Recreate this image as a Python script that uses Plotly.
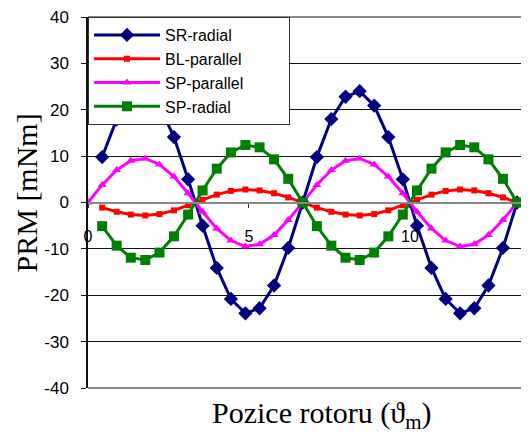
import plotly.graph_objects as go

# rotor position samples
theta = [0, 0.44, 0.89, 1.33, 1.78, 2.22, 2.67, 3.11, 3.56, 4.0, 4.44,
         4.89, 5.33, 5.78, 6.22, 6.67, 7.11, 7.56, 8.0, 8.44, 8.89,
         9.33, 9.78, 10.22, 10.67, 11.11, 11.56, 12.0, 12.44, 12.89, 13.33]

sr_radial = [None, 9.8, 17.9, 22.8, 23.9, 20.9, 14.1, 5.0, -5.0, -14.1, -20.8,
             -23.9, -22.8, -17.9, -9.8, 0.0, 9.8, 18.0, 22.8, 24.0, 20.9,
             14.1, 5.0, -5.0, -14.1, -20.8, -23.9, -22.8, -17.9, -9.8, 0.0]
bl_parallel = [None, -1.1, -2.0, -2.6, -2.8, -2.5, -1.7, -0.6, 0.6, 1.7, 2.5,
               2.8, 2.6, 2.0, 1.1, 0.0, -1.1, -2.0, -2.6, -2.8, -2.5,
               -1.7, -0.6, 0.6, 1.7, 2.5, 2.8, 2.6, 2.0, 1.1, 0.0]
sp_parallel = [0.0, 3.8, 7.0, 9.0, 9.5, 8.2, 5.6, 2.0, -2.0, -5.6, -8.2,
               -9.5, -9.0, -7.0, -3.8, 0.0, 3.8, 7.0, 9.0, 9.5, 8.2,
               5.6, 2.0, -2.0, -5.6, -8.2, -9.5, -9.0, -7.0, -3.8, 0.0]
sp_radial = [None, -5.1, -9.3, -11.9, -12.4, -10.8, -7.3, -2.6, 2.6, 7.3, 10.8,
             12.4, 11.9, 9.3, 5.1, 0.0, -5.1, -9.3, -11.9, -12.4, -10.8,
             -7.3, -2.6, 2.6, 7.3, 10.8, 12.4, 11.9, 9.3, 5.1, 0.0]

y_ticks = [-40, -30, -20, -10, 0, 10, 20, 30, 40]
y_labels = ["-40", "-30", "-20", "-10", "0", "10", "20", "30", "40"]

series = [
    ("SR-radial", sr_radial, "#000080", "diamond", 11),
    ("BL-parallel", bl_parallel, "#FF0000", "square", 6),
    ("SP-parallel", sp_parallel, "#FF00FF", "triangle-up", 8),
    ("SP-radial", sp_radial, "#008000", "square", 10),
]

fig = go.Figure()
for name, vals, col, sym, sz in series:
    # nbsp padding widens the legend box like the original
    fig.add_trace(go.Scatter(x=theta, y=vals, name=name + "\u00a0" * 9,
                             mode="lines+markers",
                             line=dict(color=col, width=3),
                             marker=dict(symbol=sym, size=sz, color=col)))

# page body adds 8px offset, so figure is 8px smaller
fig.update_layout(
    width=521, height=426,
    margin=dict(l=80, r=0, t=9, b=46, autoexpand=False),
    plot_bgcolor="white", paper_bgcolor="white",
    font=dict(family="Liberation Sans", size=16, color="black"),
    showlegend=True,
    legend=dict(x=0, y=1, xanchor="left", yanchor="top",
                bgcolor="white", bordercolor="#333333", borderwidth=1,
                font=dict(size=16), tracegroupgap=0, itemwidth=66),
    xaxis=dict(range=[0, 13.7], tickvals=[0, 5, 10], showgrid=False,
               zeroline=False, anchor="free", position=0.5, automargin=False,
               showline=True, linecolor="#888888", linewidth=2,
               ticks="outside", ticklen=4, tickcolor="#333333",
               ticklabelstandoff=15, tickfont=dict(size=16)),
    yaxis=dict(range=[-40, 40], tickvals=y_ticks, ticktext=y_labels,
               showgrid=True, gridcolor="#111111", ticklabeloverflow="allow",
               gridwidth=1, zeroline=False, showline=True, linecolor="#111111",
               linewidth=1.5, ticks="outside", ticklen=5, tickcolor="#111111",
               ticklabelstandoff=9, tickfont=dict(size=17), automargin=False),
    shapes=[
        dict(type="line", xref="paper", yref="paper", x0=0, x1=1, y0=1, y1=1,
             line=dict(color="#888888", width=2), layer="below"),
        dict(type="line", xref="paper", yref="paper", x0=0, x1=1, y0=0, y1=0,
             line=dict(color="#888888", width=2), layer="below"),
    ],
    annotations=[
        dict(text="PRM [mNm]", xref="paper", yref="paper", x=-0.14, y=0.525,
             xanchor="center", yanchor="middle",
             textangle=-90, showarrow=False,
             font=dict(family="Liberation Serif", size=30, color="black")),
        dict(text="Pozice rotoru (ϑ<sub>m</sub>)", xref="paper", yref="paper",
             x=0.53, y=-0.015, xanchor="center", yanchor="top", showarrow=False,
             font=dict(family="Liberation Serif", size=30, color="black")),
    ],
)

fig.write_html("out.html")
